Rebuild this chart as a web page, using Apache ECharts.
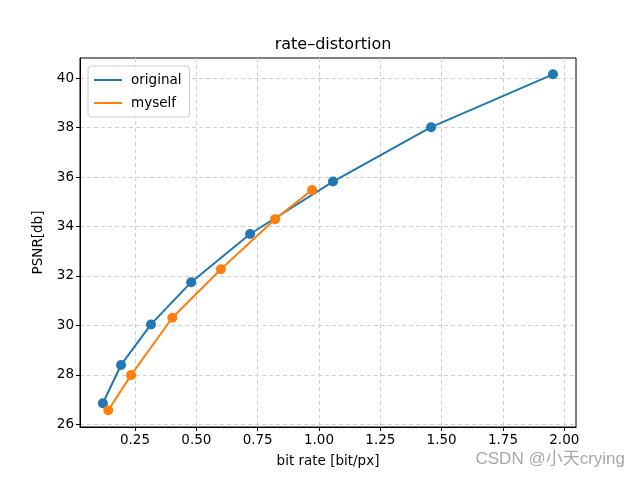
<!DOCTYPE html>
<html><head><meta charset="utf-8">
<script src="https://cdn.jsdelivr.net/npm/echarts@6/dist/echarts.min.js"></script>
<style>html,body{margin:0;padding:0;background:#fff}#c{width:640px;height:480px}</style>
</head><body><div id="c"></div>
<script>
const originalRate = [0.119, 0.193, 0.315, 0.479, 0.719, 1.057, 1.457, 1.954];
const originalPSNR = [26.85, 28.40, 30.04, 31.75, 33.70, 35.82, 38.02, 40.16];
const myselfRate = [0.141, 0.234, 0.402, 0.600, 0.821, 0.972];
const myselfPSNR = [26.57, 27.99, 30.31, 32.27, 34.30, 35.48];
const xTicks = [0.25, 0.5, 0.75, 1.0, 1.25, 1.5, 1.75, 2.0];
const yTicks = [26, 28, 30, 32, 34, 36, 38, 40];

const font = 'DejaVu Sans';
const chart = echarts.init(document.getElementById('c'), null, {renderer: 'canvas'});
const zip = (a, b) => a.map((v, i) => [v, b[i]]);
chart.setOption({
  animation: false,
  backgroundColor: '#fff',
  textStyle: {fontFamily: font},
  title: {text: 'rate\u2013distortion', left: 328, top: 32, textAlign: 'center',
    textStyle: {fontFamily: font, fontSize: 16, fontWeight: 'normal', color: '#000'}},
  grid: {left: 80, right: 64, top: 58, bottom: 53, show: true, borderColor: '#000', borderWidth: 1},
  legend: {
    left: 88, top: 66, orient: 'vertical', icon: 'rect', itemWidth: 28, itemHeight: 2,
    itemGap: 9, padding: [7, 8, 7, 6], borderColor: '#ccc', borderWidth: 1, borderRadius: 3,
    backgroundColor: 'rgba(255,255,255,0.8)',
    textStyle: {fontFamily: font, fontSize: 13.5, color: '#000', padding: [0, 0, 0, 4]},
    data: ['original', 'myself']
  },
  xAxis: {
    type: 'value', min: 0.0257, max: 2.0477,
    name: 'bit rate [bit/px]', nameLocation: 'middle', nameGap: 27,
    nameTextStyle: {fontFamily: font, fontSize: 13.5, color: '#000'},
    axisLine: {show: true, lineStyle: {color: '#000', width: 1}},
    axisTick: {show: true, length: 4, customValues: xTicks, lineStyle: {color: '#000'}},
    axisLabel: {customValues: xTicks, margin: 6, fontFamily: font, fontSize: 13.5, color: '#000',
      formatter: v => v.toFixed(2)},
    splitLine: {show: true, lineStyle: {color: '#d0d0d0', type: [4, 3], width: 1}}
  },
  yAxis: {
    type: 'value', min: 25.89, max: 40.82,
    name: 'PSNR[db]', nameLocation: 'middle', nameGap: 33,
    nameTextStyle: {fontFamily: font, fontSize: 13.5, color: '#000'},
    axisLine: {show: true, lineStyle: {color: '#000', width: 1}},
    axisTick: {show: true, length: 4, customValues: yTicks, lineStyle: {color: '#000'}},
    axisLabel: {customValues: yTicks, margin: 6, fontFamily: font, fontSize: 13.5, color: '#000',
      formatter: v => String(Math.round(v))},
    splitLine: {show: true, lineStyle: {color: '#d0d0d0', type: [4, 3], width: 1}}
  },
  series: [
    {name: 'original', type: 'line', data: zip(originalRate, originalPSNR), color: '#1f77b4',
      symbol: 'circle', symbolSize: 10, lineStyle: {width: 2}, itemStyle: {color: '#1f77b4'}, z: 2},
    {name: 'myself', type: 'line', data: zip(myselfRate, myselfPSNR), color: '#ff7f0e',
      symbol: 'circle', symbolSize: 10, lineStyle: {width: 2}, itemStyle: {color: '#ff7f0e'}, z: 3}
  ],
  graphic: [{type: 'text', right: 15, top: 451,
    style: {text: 'CSDN @小天crying', fill: '#a8a8a8', font: '17px "Liberation Sans", "Noto Sans CJK SC", sans-serif'}}]
});
</script></body></html>
